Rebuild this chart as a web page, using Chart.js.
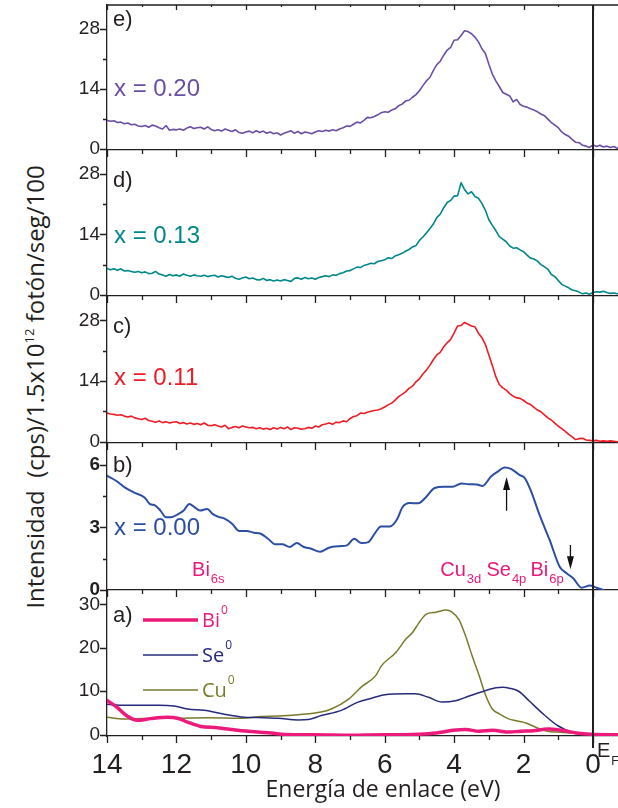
<!DOCTYPE html>
<html>
<head>
<meta charset="utf-8">
<script src="https://cdn.jsdelivr.net/npm/chart.js@4.4.1/dist/chart.umd.min.js"></script>
<style>
  html, body { margin: 0; padding: 0; background: #fff; }
  #wrap { position: relative; width: 618px; height: 808px; overflow: hidden; background: #fff; }
  #wrap canvas { position: absolute; left: 0; }
  #ytitle {
    position: absolute; left: 35px; top: 387px;
    transform: translate(-50%, -50%) rotate(-90deg);
    white-space: nowrap; font-family: 'Open Sans', sans-serif; font-size: 24px;
    line-height: 1; color: #231f20;
  }
  #ytitle sup { font-size: 13px; vertical-align: 10px; line-height: 0; }
</style>
</head>
<body>
<div id="wrap">
  <div id="ytitle">Intensidad&nbsp;&nbsp;(cps)/1.5x10<sup>12</sup> fotón/seg/100</div>
  <canvas id="pe" width="618" height="165" style="top:0px"></canvas>
  <canvas id="pd" width="618" height="171" style="top:140px"></canvas>
  <canvas id="pc" width="618" height="172" style="top:286px"></canvas>
  <canvas id="pb" width="618" height="172" style="top:433px"></canvas>
  <canvas id="pa" width="618" height="228" style="top:580px"></canvas>
</div>
<script>
// binding energy grid (eV) of the valence band spectra
const energy = [
  14.0, 13.9, 13.8, 13.7, 13.6, 13.5, 13.4, 13.3, 13.2, 13.1,
  13.0, 12.9, 12.8, 12.7, 12.6, 12.5, 12.4, 12.3, 12.2, 12.1,
  12.0, 11.9, 11.8, 11.7, 11.6, 11.5, 11.4, 11.3, 11.2, 11.1,
  11.0, 10.9, 10.8, 10.7, 10.6, 10.5, 10.4, 10.3, 10.2, 10.1,
  10.0, 9.9, 9.8, 9.7, 9.6, 9.5, 9.4, 9.3, 9.2, 9.1,
  9.0, 8.9, 8.8, 8.7, 8.6, 8.5, 8.4, 8.3, 8.2, 8.1,
  8.0, 7.9, 7.8, 7.7, 7.6, 7.5, 7.4, 7.3, 7.2, 7.1,
  7.0, 6.9, 6.8, 6.7, 6.6, 6.5, 6.4, 6.3, 6.2, 6.1,
  6.0, 5.9, 5.8, 5.7, 5.6, 5.5, 5.4, 5.3, 5.2, 5.1,
  5.0, 4.9, 4.8, 4.7, 4.6, 4.5, 4.4, 4.3, 4.2, 4.1,
  4.0, 3.9, 3.8, 3.7, 3.6, 3.5, 3.4, 3.3, 3.2, 3.1,
  3.0, 2.9, 2.8, 2.7, 2.6, 2.5, 2.4, 2.3, 2.2, 2.1,
  2.0, 1.9, 1.8, 1.7, 1.6, 1.5, 1.4, 1.3, 1.2, 1.1,
  1.0, 0.9, 0.8, 0.7, 0.6, 0.5, 0.4, 0.3, 0.2, 0.1,
  0.0, -0.1, -0.2, -0.3, -0.4, -0.5, -0.6, -0.7
];

// x = 0.20
const specX020 = [
  6.6, 6.4, 6.5, 6.1, 6.2, 5.8, 6.0, 5.6, 5.7, 5.3,
  5.2, 5.4, 5.0, 5.5, 5.3, 4.9, 4.6, 5.4, 4.3, 4.5,
  4.4, 4.6, 4.3, 4.8, 5.1, 4.7, 4.9, 5.0, 4.6, 5.1,
  4.5, 4.2, 4.4, 4.1, 4.6, 4.3, 4.0, 4.4, 3.8, 3.6,
  3.9, 4.1, 3.7, 4.2, 3.8, 4.1, 3.6, 3.9, 3.5, 3.7,
  3.2, 3.6, 3.9, 4.2, 3.6, 4.0, 3.5, 3.9, 3.7, 3.5,
  3.9, 4.2, 4.0, 4.3, 4.1, 4.4, 4.2, 4.6, 4.9, 5.3,
  5.2, 5.7, 6.2, 6.0, 6.6, 7.3, 7.2, 7.5, 7.9, 8.4,
  8.6, 8.5, 9.0, 9.3, 10.0, 10.4, 11.1, 11.3, 12.0, 12.6,
  13.5, 14.7, 15.8, 16.6, 18.2, 19.6, 20.4, 21.8, 23.0, 23.6,
  25.3, 25.4, 26.4, 27.5, 27.3, 26.8, 26.0, 24.9, 23.3, 22.2,
  19.7, 17.4, 15.8, 14.5, 13.1, 12.7, 12.3, 10.9, 11.5, 10.3,
  9.9, 9.7, 9.3, 9.0, 8.6, 8.1, 7.7, 6.9, 6.1, 5.5,
  4.9, 3.9, 3.3, 2.9, 2.2, 1.5, 1.4, 0.8, 0.6, 0.3,
  0.9, 0.5, 0.8, 0.4, 0.6, 0.3, 0.5, 0.1
];

// x = 0.13
const specX013 = [
  6.1, 5.8, 6.0, 5.7, 6.0, 5.5, 5.6, 5.4, 5.2, 5.4,
  5.1, 5.3, 4.9, 5.0, 5.4, 4.8, 4.6, 4.3, 4.7, 4.4,
  4.6, 4.3, 4.8, 4.5, 4.3, 4.6, 4.4, 4.3, 4.5, 4.2,
  4.4, 4.5, 4.1, 4.4, 4.2, 4.0, 4.3, 3.8, 3.6, 3.9,
  4.1, 3.7, 3.9, 3.5, 3.4, 3.8, 3.3, 3.5, 3.2, 3.4,
  3.2, 3.5, 3.3, 3.1, 3.8, 3.9, 3.6, 4.0, 3.7, 3.9,
  3.6, 4.0, 4.2, 4.4, 4.2, 4.6, 4.5, 4.9, 5.1, 5.5,
  5.6, 6.0, 6.4, 6.3, 6.8, 7.0, 7.3, 7.2, 7.7, 7.9,
  8.1, 8.6, 8.4, 9.0, 9.3, 9.6, 10.1, 10.5, 11.1, 11.4,
  12.6, 13.4, 14.3, 15.3, 16.4, 17.9, 18.7, 20.2, 21.4, 21.9,
  22.9, 23.0, 26.0, 24.4, 23.4, 23.9, 22.8, 22.4, 21.2, 19.6,
  17.4, 16.1, 14.9, 13.5, 12.9, 12.3, 11.3, 10.8, 10.9, 10.4,
  10.0, 9.2, 8.5, 8.3, 7.8, 7.0, 6.5, 5.9, 4.7, 4.2,
  3.3, 2.4, 2.0, 1.6, 1.1, 0.9, 0.6, 0.2, 0.4, 0.1,
  0.5, 0.7, 0.6, 0.8, 0.5, 0.3, 0.4, 0.2
];

// x = 0.11
const specX011 = [
  6.6, 6.4, 6.3, 6.1, 6.2, 5.9, 5.7, 5.9, 5.5, 5.3,
  5.1, 5.4, 4.9, 4.7, 4.5, 4.8, 4.4, 4.6, 4.3, 4.5,
  4.6, 4.2, 4.4, 4.1, 4.3, 4.0, 4.2, 3.9, 4.3, 3.8,
  3.7, 3.9, 3.6, 3.4, 3.8, 3.0, 3.3, 3.5, 3.2, 3.6,
  3.4, 3.2, 3.3, 3.0, 3.2, 2.9, 3.1, 2.8, 3.2, 2.9,
  3.3, 3.0, 3.4, 2.8, 3.2, 3.1, 2.9, 3.0, 3.3, 3.1,
  3.6, 3.4, 3.9, 4.1, 4.3, 4.0, 4.5, 4.4, 4.8, 4.6,
  5.3, 5.8, 6.0, 6.6, 6.5, 6.8, 7.0, 7.2, 7.3, 7.6,
  8.0, 8.5, 8.9, 9.6, 10.4, 10.9, 11.5, 12.3, 12.8, 13.8,
  14.5, 15.6, 16.5, 17.6, 18.9, 20.0, 20.6, 21.9, 22.8, 23.6,
  25.1, 26.7, 26.8, 27.5, 27.1, 26.7, 26.5, 25.0, 24.0, 22.4,
  20.0, 17.6, 15.0, 13.2, 12.4, 11.9, 11.1, 10.5, 10.1, 10.0,
  9.5, 8.9, 8.6, 7.9, 7.3, 6.9, 6.2, 5.5, 5.0, 4.3,
  3.6, 3.0, 2.4, 1.7, 1.1, 0.5, 0.7, 0.8, 0.4, 0.3,
  0.2, 0.3, 0.1, 0.2, 0.1, 0.2, 0.1, 0.0
];

// x = 0.00 (smoothed)
const x000Energy = [
  14.0, 13.74, 13.49, 13.23, 12.92, 12.77, 12.61, 12.46, 12.3, 12.15,
  11.94, 11.79, 11.63, 11.48, 11.32, 11.11, 10.96, 10.81, 10.6, 10.39,
  10.19, 9.98, 9.77, 9.57, 9.36, 9.15, 8.95, 8.74, 8.53, 8.33,
  8.12, 7.86, 7.61, 7.3, 7.09, 6.88, 6.67, 6.47, 6.26, 6.11,
  5.85, 5.64, 5.49, 5.28, 5.03, 4.82, 4.56, 4.3, 4.05, 3.79,
  3.57, 3.35, 3.18, 2.94, 2.74, 2.55, 2.35, 2.12, 1.97, 1.78,
  1.54, 1.25, 0.96, 0.76, 0.57, 0.33, 0.09, -0.1, -0.3
];
const specX000 = [
  5.48, 5.24, 4.92, 4.68, 4.44, 4.13, 4.05, 3.81, 3.49, 3.49,
  3.65, 3.81, 4.13, 3.97, 3.81, 3.89, 3.65, 3.52, 3.41, 3.17,
  2.83, 2.83, 2.75, 2.7, 2.46, 2.19, 2.19, 2.06, 2.25, 2.06,
  1.98, 1.83, 2.03, 2.1, 2.14, 2.46, 2.25, 2.3, 2.78, 3.05,
  3.05, 3.41, 3.97, 4.17, 4.16, 4.44, 4.89, 4.95, 4.95, 5.11,
  5.07, 5.06, 4.99, 5.44, 5.68, 5.87, 5.8, 5.52, 5.38, 4.72,
  3.6, 2.4, 1.12, 0.8, 0.56, 0.11, 0.21, 0.11, 0.0
];

// calculated partial densities of states
const biEnergy = [
  14.0, 13.71, 13.42, 13.13, 12.74, 12.26, 11.97, 11.68, 11.3, 10.82,
  10.24, 9.66, 9.27, 8.88, 8.0, 7.0, 6.0, 5.4, 5.0, 4.52,
  4.03, 3.67, 3.28, 2.9, 2.41, 2.1, 1.72, 1.31, 0.9, 0.48,
  0.07, -0.72
];
const biDos = [
  7.9, 6.3, 4.3, 3.3, 3.7, 4.0, 3.8, 2.9, 1.9, 1.6,
  1.0, 0.6, 0.4, 0.05, 0.0, -0.1, 0.0, 0.0, 0.1, 0.4,
  1.0, 1.2, 0.8, 1.0, 0.6, 0.8, 0.9, 1.3, 1.0, 0.4,
  0.1, 0.0
];
const seEnergy = [
  14.0, 13.5, 13.03, 12.5, 12.07, 11.68, 11.2, 10.62, 10.14, 9.46,
  9.07, 8.49, 8.2, 7.83, 7.25, 6.77, 6.38, 5.99, 5.41, 5.12,
  4.74, 4.35, 3.96, 3.57, 3.19, 2.8, 2.6, 2.41, 2.14, 1.83,
  1.41, 1.0, 0.59, 0.18, -0.72
];
const seDos = [
  7.0, 6.8, 6.8, 6.8, 6.6, 5.9, 5.6, 4.7, 4.1, 3.9,
  3.8, 3.4, 3.5, 4.4, 5.6, 7.5, 8.4, 9.2, 9.4, 9.4,
  8.6, 7.5, 7.8, 8.9, 9.9, 10.8, 10.9, 10.7, 10.0, 7.7,
  4.6, 2.0, 0.5, 0.1, 0.0
];
const cuEnergy = [
  14.0, 13.5, 13.0, 12.5, 12.0, 11.1, 10.14, 9.56, 9.07, 8.49,
  7.83, 7.54, 7.04, 6.67, 6.26, 6.09, 5.68, 5.39, 5.2, 5.01,
  4.81, 4.52, 4.23, 4.06, 3.86, 3.67, 3.48, 3.28, 3.09, 2.9,
  2.7, 2.45, 2.14, 1.93, 1.62, 1.31, 1.0, 0.5, 0.0, -0.72
];
const cuDos = [
  4.0, 3.6, 3.7, 3.8, 3.8, 3.9, 3.8, 4.2, 4.3, 4.6,
  5.2, 5.9, 8.2, 11.0, 13.6, 15.9, 18.9, 22.0, 23.5, 25.8,
  27.7, 28.2, 28.7, 28.2, 26.5, 22.7, 18.1, 13.6, 9.0, 5.9,
  4.8, 3.7, 3.1, 2.7, 1.6, 0.8, 0.6, 0.3, 0.2, 0.1
];

// axis ticks
const energyTicks = [14, 13, 12, 11, 10, 9, 8, 7, 6, 5, 4, 3, 2, 1, 0];
const specTicks = [0, 7, 14, 21, 28];
const specLabels = [0, 14, 28];
const x000Ticks = [0, 1.5, 3, 4.5, 6];
const x000Labels = [0, 3, 6];
const dosTicks = [0, 5, 10, 15, 20, 25, 30];
const dosLabels = [0, 10, 20, 30];

const axisColor = '#231f20';
const pink = '#e8197a';
const pts = (xs, ys) => xs.map((x, i) => ({ x, y: ys[i] }));

// tick marks, panel frame and the Fermi level line
const framePlugin = {
  id: 'frame',
  afterDraw(chart, args, o) {
    const { ctx, chartArea: a, scales: { x, y } } = chart;
    ctx.save();
    ctx.strokeStyle = axisColor;
    ctx.lineWidth = 1.3;
    ctx.beginPath();
    x.ticks.forEach(t => {
      const px = Math.round(x.getPixelForValue(t.value)) + 0.5;
      const len = t.value % 2 === 0 ? 7 : 4;
      ctx.moveTo(px, a.bottom);
      ctx.lineTo(px, a.bottom + len);
      if (o.top) {
        ctx.moveTo(px, a.top);
        ctx.lineTo(px, a.top + len - 2);
      }
    });
    y.ticks.forEach(t => {
      const py = Math.round(y.getPixelForValue(t.value)) + 0.5;
      const len = o.yMajor.includes(t.value) ? 7 : 4;
      ctx.moveTo(a.left - len, py);
      ctx.lineTo(a.left, py);
    });
    if (o.top) {
      ctx.moveTo(a.left, a.top);
      ctx.lineTo(a.right, a.top);
    }
    ctx.stroke();
    const x0 = x.getPixelForValue(0);
    ctx.lineWidth = 2;
    ctx.beginPath();
    ctx.moveTo(x0, a.top);
    ctx.lineTo(x0, a.bottom + (o.fermiExtra || 0));
    ctx.stroke();
    ctx.restore();
  }
};

function drawRich(ctx, x, y, text, font, small, smallFont, dy) {
  ctx.font = font;
  ctx.fillText(text, x, y);
  const w = ctx.measureText(text).width;
  if (small) {
    ctx.font = smallFont;
    ctx.fillText(small, x + w + 1, y + dy);
  }
}

// panel letters, composition labels, orbital labels, arrows and legend
const notesPlugin = {
  id: 'notes',
  afterDraw(chart, args, o) {
    const { ctx, chartArea: a, scales: { x, y } } = chart;
    ctx.save();
    ctx.textAlign = 'left';
    ctx.textBaseline = 'middle';
    (o.labels || []).forEach(l => {
      ctx.font = l.font;
      ctx.fillStyle = l.color;
      ctx.fillText(l.text, a.left + l.dx, a.top + l.dy);
    });
    ctx.textBaseline = 'alphabetic';
    ctx.fillStyle = pink;
    (o.orbitals || []).forEach(l => {
      drawRich(ctx, x.getPixelForValue(l.e), y.getPixelForValue(l.v), l.text,
        '20px "Liberation Sans", Arial', l.sub, '13px "Liberation Sans", Arial', 7);
    });
    ctx.strokeStyle = '#111';
    ctx.fillStyle = '#111';
    ctx.lineWidth = 1.3;
    (o.arrows || []).forEach(ar => {
      const px = x.getPixelForValue(ar.e);
      const y1 = y.getPixelForValue(ar.from);
      const y2 = y.getPixelForValue(ar.to);
      const dir = y2 < y1 ? 1 : -1;
      ctx.beginPath();
      ctx.moveTo(px, y1);
      ctx.lineTo(px, y2 + dir * 10);
      ctx.stroke();
      ctx.beginPath();
      ctx.moveTo(px, y2);
      ctx.lineTo(px - 3.5, y2 + dir * 13);
      ctx.lineTo(px + 3.5, y2 + dir * 13);
      ctx.closePath();
      ctx.fill();
    });
    if (o.legend) {
      chart.data.datasets.forEach((ds, i) => {
        const ly = a.top + 30 + 35 * i;
        ctx.strokeStyle = ds.borderColor;
        ctx.lineWidth = ds.borderWidth;
        ctx.beginPath();
        ctx.moveTo(a.left + 36, ly);
        ctx.lineTo(a.left + 91, ly);
        ctx.stroke();
        ctx.fillStyle = ds.borderColor;
        ctx.textBaseline = 'middle';
        drawRich(ctx, a.left + 95, ly + 1, ds.label, '20px "Open Sans"', ds.sup, '12px "Open Sans"', -10);
      });
    }
    if (o.fermi) {
      const x0 = x.getPixelForValue(0);
      ctx.fillStyle = axisColor;
      ctx.textBaseline = 'alphabetic';
      drawRich(ctx, x0 + 4, a.bottom + 21, 'E', '20px "Liberation Sans Narrow", "Liberation Sans"', 'F',
        '12px "Liberation Sans"', 8);
    }
    if (o.xTitle) {
      ctx.fillStyle = axisColor;
      ctx.textAlign = 'center';
      ctx.textBaseline = 'middle';
      ctx.font = '23px "Open Sans"';
      ctx.fillText(o.xTitle, a.left + 276, a.bottom + 54);
    }
    ctx.restore();
  }
};

const tickFont = { family: '"Liberation Sans", Arial, sans-serif', size: 19 };

function makePanel(id, cfg) {
  return new Chart(document.getElementById(id), {
    type: 'line',
    data: { datasets: cfg.datasets },
    options: {
      responsive: false,
      animation: false,
      devicePixelRatio: 1,
      events: [],
      layout: { padding: { top: cfg.padTop, bottom: cfg.padBottom, left: 0, right: 0 } },
      elements: { point: { radius: 0 }, line: { borderJoinStyle: 'round', borderCapStyle: 'round' } },
      plugins: {
        legend: { display: false },
        tooltip: { enabled: false },
        frame: cfg.frame,
        notes: cfg.notes
      },
      scales: {
        x: {
          type: 'linear', reverse: true, min: -0.72, max: 14, bounds: 'data',
          afterBuildTicks: s => { s.ticks = energyTicks.map(v => ({ value: v })); },
          afterFit: s => { s.height = cfg.xHeight; s.paddingLeft = 0; s.paddingRight = 0; },
          grid: { display: false, drawTicks: false },
          border: { display: true, color: axisColor, width: 1.3 },
          ticks: {
            display: cfg.xLabels, autoSkip: false, maxRotation: 0, padding: 12, color: axisColor,
            font: { family: '"Liberation Sans Narrow", "Liberation Sans", sans-serif', size: 28 },
            callback: v => (v % 2 === 0 ? String(v) : '')
          }
        },
        y: {
          type: 'linear', min: cfg.yMin, max: cfg.yMax, bounds: 'data',
          afterBuildTicks: s => { s.ticks = cfg.yTicks.map(v => ({ value: v })); },
          afterFit: s => { s.width = 107; s.paddingTop = 0; s.paddingBottom = 0; },
          grid: { display: false, drawTicks: false },
          border: { display: true, color: axisColor, width: 1.3 },
          ticks: {
            padding: 7, color: axisColor,
            font: Object.assign({}, tickFont, cfg.yBold ? { weight: 'bold' } : {}),
            callback: v => (cfg.yLabels.includes(v) ? String(v) : '')
          }
        }
      }
    },
    plugins: [framePlugin, notesPlugin]
  });
}

const letterFont = '22px "Liberation Sans", Arial';
const compFont = '24px "Liberation Sans", Arial';

function spectrum(values, color) {
  return { data: pts(energy, values), borderColor: color, borderWidth: 1.6, tension: 0 };
}

makePanel('pe', {
  padTop: 5, padBottom: 15, xHeight: 0, xLabels: false,
  yMin: -0.3, yMax: 33.5, yTicks: specTicks, yLabels: specLabels,
  datasets: [spectrum(specX020, '#6a4ea5')],
  frame: { top: true, yMajor: specLabels },
  notes: { labels: [
    { text: 'e)', dx: 6, dy: 15, font: letterFont, color: axisColor },
    { text: 'x = 0.20', dx: 7, dy: 84, font: compFont, color: '#6a4ea5' }
  ] }
});

makePanel('pd', {
  padTop: 10, padBottom: 15, xHeight: 0, xLabels: false,
  yMin: -0.3, yMax: 33.6, yTicks: specTicks, yLabels: specLabels,
  datasets: [spectrum(specX013, '#00878a')],
  frame: { yMajor: specLabels },
  notes: { labels: [
    { text: 'd)', dx: 6, dy: 31, font: letterFont, color: axisColor },
    { text: 'x = 0.13', dx: 7, dy: 86, font: compFont, color: '#00878a' }
  ] }
});

makePanel('pc', {
  padTop: 10, padBottom: 15, xHeight: 0, xLabels: false,
  yMin: -0.3, yMax: 33.6, yTicks: specTicks, yLabels: specLabels,
  datasets: [spectrum(specX011, '#ee1c25')],
  frame: { yMajor: specLabels },
  notes: { labels: [
    { text: 'c)', dx: 6, dy: 31, font: letterFont, color: axisColor },
    { text: 'x = 0.11', dx: 7, dy: 82, font: compFont, color: '#ee1c25' }
  ] }
});

makePanel('pb', {
  padTop: 10, padBottom: 15, xHeight: 0, xLabels: false,
  yMin: 0, yMax: 7.05, yTicks: x000Ticks, yLabels: x000Labels, yBold: true,
  datasets: [{
    data: pts(x000Energy, specX000), borderColor: '#2c4ea3', borderWidth: 2,
    cubicInterpolationMode: 'monotone'
  }],
  frame: { yMajor: x000Labels },
  notes: {
    labels: [
      { text: 'b)', dx: 6, dy: 23, font: letterFont, color: axisColor },
      { text: 'x = 0.00', dx: 7, dy: 85, font: compFont, color: '#2c4ea3' }
    ],
    orbitals: [
      { text: 'Bi', sub: '6s', e: 11.55, v: 0.67 },
      { text: 'Cu', sub: '3d', e: 4.4, v: 0.67 },
      { text: 'Se', sub: '4p', e: 3.07, v: 0.67 },
      { text: 'Bi', sub: '6p', e: 1.8, v: 0.67 }
    ],
    arrows: [
      { e: 2.49, from: 3.8, to: 5.42 },
      { e: 0.65, from: 2.16, to: 1.0 }
    ]
  }
});

makePanel('pa', {
  padTop: 10, padBottom: 0, xHeight: 72, xLabels: true,
  yMin: -0.3, yMax: 33.3, yTicks: dosTicks, yLabels: dosLabels,
  datasets: [
    { label: 'Bi', sup: '0', data: pts(biEnergy, biDos), borderColor: '#ec1a7a', borderWidth: 3.5,
      cubicInterpolationMode: 'monotone' },
    { label: 'Se', sup: '0', data: pts(seEnergy, seDos), borderColor: '#272b7c', borderWidth: 1.5,
      cubicInterpolationMode: 'monotone' },
    { label: 'Cu', sup: '0', data: pts(cuEnergy, cuDos), borderColor: '#7a7a2c', borderWidth: 1.5,
      cubicInterpolationMode: 'monotone' }
  ],
  frame: { yMajor: dosLabels, fermiExtra: 12 },
  notes: {
    labels: [{ text: 'a)', dx: 6, dy: 26, font: letterFont, color: axisColor }],
    legend: true,
    fermi: true,
    xTitle: 'Energía de enlace (eV)'
  }
});
</script>
</body>
</html>
